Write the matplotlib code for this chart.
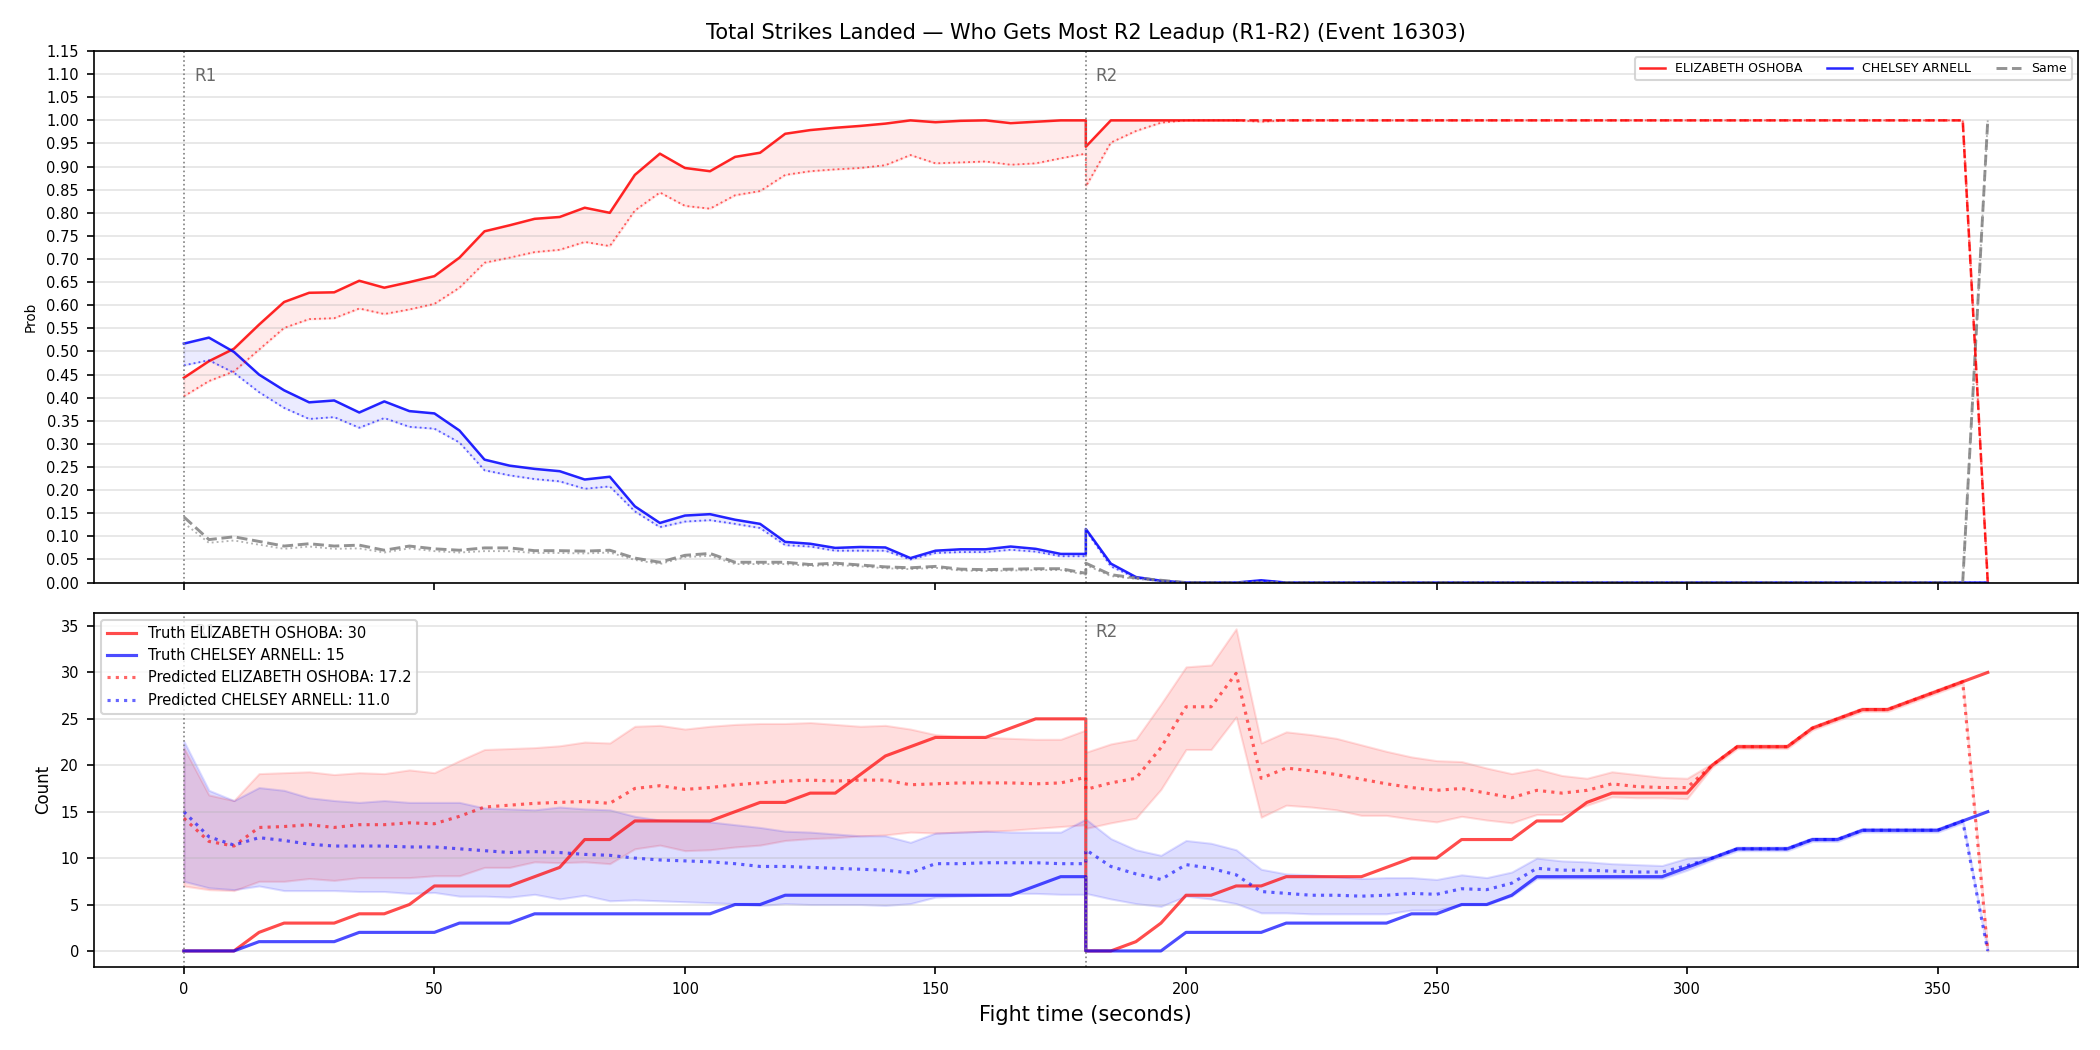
import numpy as np
import matplotlib
matplotlib.use("Agg")
import matplotlib.pyplot as plt

red_name = "ELIZABETH OSHOBA"
blue_name = "CHELSEY ARNELL"

# time grid (seconds): R1 samples then R2 samples, 180 appears in both
t_r1 = list(range(0, 181, 5))
t_r2 = list(range(180, 361, 5))

# ---- top panel: probability of landing most strikes in R2 ----
red_prob_r1 = [0.443, 0.479, 0.506, 0.558, 0.607, 0.627, 0.628, 0.653, 0.638, 0.650,
               0.663, 0.703, 0.760, 0.773, 0.787, 0.791, 0.811, 0.800, 0.882, 0.928,
               0.897, 0.890, 0.921, 0.930, 0.971, 0.979, 0.984, 0.988, 0.993, 1.000,
               0.996, 0.999, 1.000, 0.994, 0.997, 1.000, 1.000]
red_prob_r2 = [0.943, 1.0, 1.0, 1.0, 1.0, 1.0, 1.0, 1.0, 1.0, 1.0,
               1.0, 1.0, 1.0, 1.0, 1.0, 1.0, 1.0, 1.0, 1.0, 1.0,
               1.0, 1.0, 1.0, 1.0, 1.0, 1.0, 1.0, 1.0, 1.0, 1.0,
               1.0, 1.0, 1.0, 1.0, 1.0, 1.0, 0.0]
red_cal_r1 = [0.403, 0.436, 0.457, 0.504, 0.551, 0.570, 0.572, 0.593, 0.581, 0.591,
              0.603, 0.638, 0.692, 0.703, 0.715, 0.720, 0.737, 0.728, 0.805, 0.844,
              0.815, 0.809, 0.838, 0.847, 0.882, 0.890, 0.894, 0.897, 0.903, 0.925,
              0.907, 0.909, 0.911, 0.904, 0.907, 0.918, 0.928]
red_cal_r2 = [0.857, 0.952, 0.977, 0.995, 1.0, 1.0, 1.0, 0.997, 1.0, 1.0,
              1.0, 1.0, 1.0, 1.0, 1.0, 1.0, 1.0, 1.0, 1.0, 1.0,
              1.0, 1.0, 1.0, 1.0, 1.0, 1.0, 1.0, 1.0, 1.0, 1.0,
              1.0, 1.0, 1.0, 1.0, 1.0, 1.0, 0.0]
blue_prob_r1 = [0.517, 0.530, 0.499, 0.450, 0.416, 0.390, 0.394, 0.368, 0.392, 0.371,
                0.366, 0.329, 0.266, 0.253, 0.246, 0.241, 0.223, 0.229, 0.165, 0.129,
                0.145, 0.148, 0.136, 0.127, 0.088, 0.084, 0.075, 0.077, 0.076, 0.053,
                0.069, 0.072, 0.072, 0.078, 0.073, 0.062, 0.062]
blue_prob_r2 = [0.116, 0.041, 0.012, 0.004, 0.0, 0.0, 0.0, 0.005, 0.0, 0.0,
                0.0, 0.0, 0.0, 0.0, 0.0, 0.0, 0.0, 0.0, 0.0, 0.0,
                0.0, 0.0, 0.0, 0.0, 0.0, 0.0, 0.0, 0.0, 0.0, 0.0,
                0.0, 0.0, 0.0, 0.0, 0.0, 0.0, 0.0]
blue_cal_r1 = [0.470, 0.481, 0.454, 0.412, 0.378, 0.354, 0.358, 0.335, 0.356, 0.337,
               0.333, 0.303, 0.243, 0.232, 0.224, 0.219, 0.203, 0.208, 0.154, 0.120,
               0.132, 0.135, 0.127, 0.118, 0.081, 0.078, 0.069, 0.069, 0.069, 0.050,
               0.064, 0.066, 0.066, 0.071, 0.067, 0.057, 0.057]
blue_cal_r2 = [0.113, 0.035, 0.010, 0.003, 0.0, 0.0, 0.0, 0.004, 0.0, 0.0,
               0.0, 0.0, 0.0, 0.0, 0.0, 0.0, 0.0, 0.0, 0.0, 0.0,
               0.0, 0.0, 0.0, 0.0, 0.0, 0.0, 0.0, 0.0, 0.0, 0.0,
               0.0, 0.0, 0.0, 0.0, 0.0, 0.0, 0.0]
same_prob_r1 = [0.142, 0.093, 0.099, 0.089, 0.079, 0.084, 0.079, 0.081, 0.070, 0.079,
                0.073, 0.070, 0.075, 0.075, 0.069, 0.069, 0.068, 0.070, 0.053, 0.044,
                0.059, 0.063, 0.044, 0.044, 0.044, 0.039, 0.042, 0.038, 0.034, 0.032,
                0.035, 0.029, 0.028, 0.029, 0.030, 0.030, 0.020]
same_prob_r2 = [0.042, 0.017, 0.010, 0.005, 0.0, 0.0, 0.0, 0.0, 0.0, 0.0,
                0.0, 0.0, 0.0, 0.0, 0.0, 0.0, 0.0, 0.0, 0.0, 0.0,
                0.0, 0.0, 0.0, 0.0, 0.0, 0.0, 0.0, 0.0, 0.0, 0.0,
                0.0, 0.0, 0.0, 0.0, 0.0, 0.0, 1.0]
same_cal_r1 = [0.129, 0.086, 0.091, 0.082, 0.073, 0.078, 0.073, 0.074, 0.065, 0.074,
               0.068, 0.065, 0.068, 0.068, 0.064, 0.064, 0.063, 0.065, 0.049, 0.040,
               0.055, 0.058, 0.040, 0.040, 0.040, 0.036, 0.038, 0.035, 0.031, 0.029,
               0.032, 0.026, 0.025, 0.026, 0.027, 0.027, 0.017]
same_cal_r2 = [0.038, 0.014, 0.008, 0.003, 0.0, 0.0, 0.0, 0.0, 0.0, 0.0,
               0.0, 0.0, 0.0, 0.0, 0.0, 0.0, 0.0, 0.0, 0.0, 0.0,
               0.0, 0.0, 0.0, 0.0, 0.0, 0.0, 0.0, 0.0, 0.0, 0.0,
               0.0, 0.0, 0.0, 0.0, 0.0, 0.0, 1.0]

# ---- bottom panel: strike counts in the round ----
truth_red_r1 = [0, 0, 0, 2, 3, 3, 3, 4, 4, 5, 7, 7, 7, 7, 8, 9, 12, 12, 14, 14,
                14, 14, 15, 16, 16, 17, 17, 19, 21, 22, 23, 23, 23, 24, 25, 25, 25]
truth_red_r2 = [0, 0, 1, 3, 6, 6, 7, 7, 8, 8, 8, 8, 9, 10, 10, 12, 12, 12, 14, 14,
                16, 17, 17, 17, 17, 20, 22, 22, 22, 24, 25, 26, 26, 27, 28, 29, 30]
truth_blue_r1 = [0, 0, 0, 1, 1, 1, 1, 2, 2, 2, 2, 3, 3, 3, 4, 4, 4, 4, 4, 4,
                 4, 4, 5, 5, 6, 6, 6, 6, 6, 6, 6, 6, 6, 6, 7, 8, 8]
truth_blue_r2 = [0, 0, 0, 0, 2, 2, 2, 2, 3, 3, 3, 3, 3, 4, 4, 5, 5, 6, 8, 8,
                 8, 8, 8, 8, 9, 10, 11, 11, 11, 12, 12, 13, 13, 13, 13, 14, 15]

pred_red_r1 = [14.3, 11.8, 11.3, 13.3, 13.4, 13.6, 13.3, 13.6, 13.6, 13.8,
               13.7, 14.5, 15.5, 15.7, 15.9, 16.0, 16.1, 15.9, 17.5, 17.8,
               17.4, 17.6, 17.9, 18.1, 18.3, 18.4, 18.3, 18.4, 18.4, 17.9,
               18.0, 18.1, 18.1, 18.1, 18.0, 18.1, 18.7]
pred_red_r2 = [17.4, 18.1, 18.6, 21.9, 26.3, 26.3, 29.9, 18.6, 19.7, 19.4,
               19.0, 18.5, 18.0, 17.6, 17.3, 17.5, 17.0, 16.5, 17.3, 17.0,
               17.3, 18.0, 17.7, 17.6, 17.6, 20.0, 22.0, 22.0, 22.0, 24.0,
               25.0, 26.0, 26.0, 27.0, 28.0, 29.0, 0.0]
pred_blue_r1 = [15.0, 12.3, 11.4, 12.2, 11.9, 11.5, 11.3, 11.3, 11.3, 11.2,
                11.2, 11.0, 10.8, 10.6, 10.7, 10.6, 10.4, 10.3, 10.0, 9.8,
                9.7, 9.6, 9.4, 9.1, 9.1, 9.0, 8.9, 8.8, 8.7, 8.4,
                9.4, 9.4, 9.5, 9.5, 9.5, 9.4, 9.4]
pred_blue_r2 = [10.9, 9.1, 8.3, 7.7, 9.3, 8.9, 8.2, 6.4, 6.2, 6.0,
                6.0, 5.9, 6.0, 6.2, 6.1, 6.7, 6.6, 7.3, 8.9, 8.7,
                8.7, 8.6, 8.5, 8.5, 9.2, 10.0, 11.0, 11.0, 11.0, 12.0,
                12.0, 13.0, 13.0, 13.0, 13.0, 14.0, 0.0]

red_hi_r1 = [21.9, 16.8, 16.2, 19.1, 19.2, 19.3, 19.0, 19.2, 19.1, 19.5,
             19.2, 20.5, 21.7, 21.8, 21.9, 22.1, 22.5, 22.4, 24.2, 24.3,
             23.9, 24.2, 24.4, 24.5, 24.5, 24.6, 24.4, 24.2, 24.3, 23.9,
             23.3, 23.1, 23.0, 22.9, 22.8, 22.8, 23.8]
red_lo_r1 = [7.0, 6.6, 6.5, 7.5, 7.5, 7.8, 7.6, 7.9, 7.9, 7.9,
             8.1, 8.1, 9.0, 9.0, 9.6, 9.5, 9.6, 9.4, 11.0, 11.4,
             10.8, 10.9, 11.2, 11.4, 11.9, 12.1, 12.2, 12.4, 12.5, 12.8,
             12.7, 12.8, 12.9, 13.0, 13.2, 13.4, 13.6]
red_hi_r2 = [21.4, 22.3, 22.8, 26.6, 30.6, 30.8, 34.7, 22.4, 23.6, 23.3,
             22.9, 22.2, 21.5, 20.9, 20.5, 20.4, 19.7, 19.1, 19.6, 18.9,
             18.6, 19.3, 19.0, 18.7, 18.6, 20.2, 22.2, 22.2, 22.2, 24.2,
             25.2, 26.2, 26.2, 27.2, 28.2, 29.2, 0.0]
red_lo_r2 = [13.2, 13.8, 14.3, 17.4, 21.7, 21.7, 25.2, 14.4, 15.7, 15.5,
             15.2, 14.6, 14.6, 14.2, 13.9, 14.5, 14.1, 13.8, 14.7, 14.7,
             15.7, 16.6, 16.5, 16.5, 16.4, 19.8, 21.8, 21.8, 21.8, 23.8,
             24.8, 25.8, 25.8, 26.8, 27.8, 28.8, 0.0]
blue_hi_r1 = [22.6, 17.3, 16.2, 17.6, 17.3, 16.5, 16.2, 16.0, 16.2, 16.0,
              16.0, 16.0, 15.4, 15.3, 15.2, 15.5, 15.3, 15.2, 14.5, 14.1,
              14.0, 13.9, 13.6, 13.3, 12.9, 12.8, 12.6, 12.4, 12.4, 11.7,
              12.7, 12.8, 12.9, 12.8, 12.8, 12.8, 14.2]
blue_lo_r1 = [7.5, 6.8, 6.6, 7.0, 6.5, 6.5, 6.5, 6.4, 6.4, 6.2,
              6.3, 5.9, 5.9, 5.8, 6.1, 5.6, 6.0, 5.4, 5.5, 5.4,
              5.3, 5.2, 5.1, 4.9, 5.1, 5.0, 5.0, 5.0, 4.9, 5.1,
              5.8, 5.9, 6.0, 6.2, 6.2, 6.1, 6.1]
blue_hi_r2 = [14.2, 12.1, 10.9, 10.3, 11.9, 11.6, 10.9, 8.8, 8.3, 8.2,
              8.0, 7.8, 7.9, 7.9, 7.7, 8.2, 7.9, 8.5, 10.0, 9.7,
              9.6, 9.4, 9.3, 9.2, 10.0, 10.2, 11.2, 11.2, 11.2, 12.2,
              12.2, 13.2, 13.2, 13.2, 13.2, 14.2, 0.0]
blue_lo_r2 = [6.2, 5.6, 5.1, 4.8, 5.9, 5.6, 5.1, 4.1, 4.1, 4.0,
              4.0, 4.0, 4.0, 4.4, 4.4, 5.0, 5.0, 5.9, 7.8, 7.8,
              7.8, 7.8, 7.8, 7.8, 8.7, 9.8, 10.8, 10.8, 10.8, 11.8,
              11.8, 12.8, 12.8, 12.8, 12.8, 13.8, 0.0]

final_red = 30
final_blue = 15
pred_final_red = 17.2
pred_final_blue = 11.0

rounds = [(0, "R1"), (180, "R2")]

t = np.array(t_r1 + t_r2)
cut = len(t_r1) + 6   # red prob line switches to dashed here (t=210 in R2)

fig, (ax1, ax2) = plt.subplots(2, 1, figsize=(14, 7), dpi=150, sharex=True,
                               gridspec_kw={"height_ratios": [3, 2]})
fig.subplots_adjust(left=0.0446, right=0.9895, top=0.9514, bottom=0.079, hspace=0.068)

# top panel
p_red = np.array(red_prob_r1 + red_prob_r2)
c_red = np.array(red_cal_r1 + red_cal_r2)
p_blue = np.array(blue_prob_r1 + blue_prob_r2)
c_blue = np.array(blue_cal_r1 + blue_cal_r2)
p_same = np.array(same_prob_r1 + same_prob_r2)
c_same = np.array(same_cal_r1 + same_cal_r2)

ax1.fill_between(t, p_red, c_red, color="red", alpha=0.08)
ax1.fill_between(t, p_blue, c_blue, color="blue", alpha=0.08)
ax1.plot(t[:cut + 1], p_red[:cut + 1], color="red", lw=1.2, alpha=0.85, label=red_name)
ax1.plot(t, p_blue, color="blue", lw=1.2, alpha=0.85, label=blue_name)
ax1.plot(t, p_same, color="gray", lw=1.4, ls="--", alpha=0.85, label="Same")
ax1.plot(t, c_red, color="red", lw=0.9, ls=":", alpha=0.6)
ax1.plot(t, c_blue, color="blue", lw=0.9, ls=":", alpha=0.6)
ax1.plot(t, c_same, color="gray", lw=0.9, ls=":", alpha=0.6)
ax1.plot(t[cut:], p_red[cut:], color="red", lw=1.2, ls="--", alpha=0.85)

ax1.set_ylim(0, 1.15)
ax1.set_yticks(np.arange(0, 1.151, 0.05))
ax1.set_ylabel("Prob", fontsize=6.5)
ax1.set_title("Total Strikes Landed \u2014 Who Gets Most R2 Leadup (R1-R2) (Event 16303)", fontsize=10)
ax1.legend(loc="upper right", ncol=3, fontsize=6)

# bottom panel
ax2.fill_between(t, red_lo_r1 + red_lo_r2, red_hi_r1 + red_hi_r2, color="red", alpha=0.13)
ax2.fill_between(t, blue_lo_r1 + blue_lo_r2, blue_hi_r1 + blue_hi_r2, color="blue", alpha=0.13)
ax2.plot(t, truth_red_r1 + truth_red_r2, color="red", lw=1.5, alpha=0.7,
         label=f"Truth {red_name}: {final_red}")
ax2.plot(t, truth_blue_r1 + truth_blue_r2, color="blue", lw=1.5, alpha=0.7,
         label=f"Truth {blue_name}: {final_blue}")
ax2.plot(t, pred_red_r1 + pred_red_r2, color="red", lw=1.5, ls=":", alpha=0.6,
         label=f"Predicted {red_name}: {pred_final_red:.1f}")
ax2.plot(t, pred_blue_r1 + pred_blue_r2, color="blue", lw=1.5, ls=":", alpha=0.6,
         label=f"Predicted {blue_name}: {pred_final_blue:.1f}")
ax2.set_ylabel("Count", fontsize=8)
ax2.set_xlabel("Fight time (seconds)", fontsize=10)
ax2.legend(loc="upper left", fontsize=7)

for ax in (ax1, ax2):
    ax.grid(True, axis="y", alpha=0.35)
    ax.tick_params(labelsize=7)
    for x, lab in rounds:
        ax.axvline(x, color="gray", ls=":", lw=0.8)
        ax.text(x + 2, 0.97, lab, transform=ax.get_xaxis_transform(),
                va="top", fontsize=8, color="dimgray")

fig.savefig("out.png", dpi=150)
